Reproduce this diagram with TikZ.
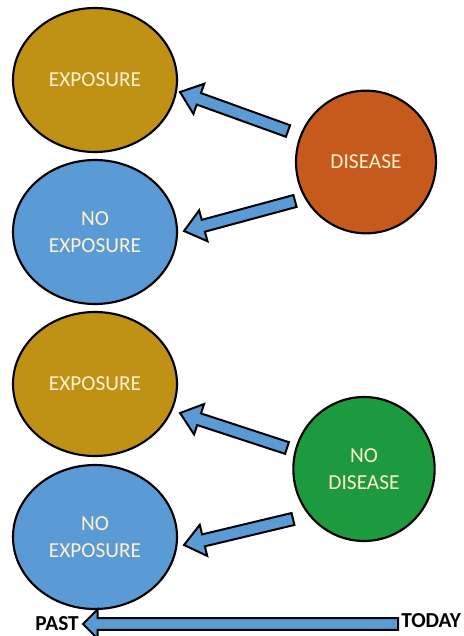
\documentclass[tikz,border=0pt]{standalone}
\usepackage{fontspec}
\setmainfont{Carlito}
\usetikzlibrary{shapes.geometric,calc}
\definecolor{gold}{HTML}{BF9115}
\definecolor{bluefill}{HTML}{5B9BD5}
\definecolor{orangefill}{HTML}{C55A1C}
\definecolor{greenfill}{HTML}{1E9A3E}
\definecolor{cream}{HTML}{FFF2D0}
\tikzset{
  blob/.style={ellipse, draw=black, line width=1.6pt, text=cream, align=center,
     font=\fontsize{16}{20}\selectfont, inner sep=0pt},
  expo/.style={blob, fill=gold, minimum width=123pt, minimum height=108pt},
  noexpo/.style={blob, fill=bluefill, minimum width=123pt, minimum height=108pt},
  dis/.style={blob, fill=orangefill, minimum width=105pt, minimum height=107pt},
  nodis/.style={blob, fill=greenfill, minimum width=106pt, minimum height=108pt},
  arrowbody/.style={fill=bluefill, draw=black, line width=1.5pt, line join=miter},
  timelabel/.style={font=\fontsize{16}{18}\selectfont\bfseries, text=black, inner sep=0pt}
}
% block arrow from #1 (tail) to #2 (tip); #3 shaft half width, #4 head half width, #5 head length (pt)
\newcommand\blockarrow[5]{%
  \path let \p1=(#1), \p2=(#2), \n1={atan2(\y2-\y1,\x2-\x1)}, \n2={veclen(\x2-\x1,\y2-\y1)} in
    \pgfextra{\xdef\barang{\n1}\xdef\barlen{\n2}};
  \begin{scope}[shift={(#1)}, rotate=\barang]
    \draw[arrowbody] (0pt,-#3) -- (\barlen-#5,-#3) -- (\barlen-#5,-#4) -- (\barlen,0pt)
      -- (\barlen-#5,#4) -- (\barlen-#5,#3) -- (0pt,#3) -- cycle;
  \end{scope}}
\begin{document}
\begin{tikzpicture}[x=0.75pt,y=-0.75pt]
\useasboundingbox (0,0) rectangle (464,636);
% top group
\node[expo] (e1) at (95,80) {EXPOSURE};
\node[noexpo] (n1) at (95,232) {NO\\EXPOSURE};
\node[dis] (d1) at (366,162) {DISEASE};
% bottom group
\node[expo] (e2) at (95,384) {EXPOSURE};
\node[noexpo] (n2) at (95,537) {NO\\EXPOSURE};
\node[nodis] (d2) at (364,469) {NO\\DISEASE};
% arrow endpoints
\coordinate (t1) at (288,131); \coordinate (h1) at (180,92);
\coordinate (t2) at (295,201); \coordinate (h2) at (184,231);
\coordinate (t3) at (287,448); \coordinate (h3) at (180,413);
\coordinate (t4) at (293,519); \coordinate (h4) at (184,545);
\blockarrow{t1}{h1}{4.6pt}{12pt}{15pt}
\blockarrow{t2}{h2}{4.6pt}{12pt}{15pt}
\blockarrow{t3}{h3}{4.6pt}{12pt}{15pt}
\blockarrow{t4}{h4}{4.6pt}{12pt}{15pt}
% timeline
\node[timelabel, anchor=west] (today) at (401,621) {TODAY};
\node[timelabel, anchor=east] (past) at (79,624) {PAST};
\coordinate (tlstart) at (398,624);
\coordinate (tlend) at (83,624);
\blockarrow{tlstart}{tlend}{4.4pt}{11pt}{11pt}
\end{tikzpicture}
\end{document}
